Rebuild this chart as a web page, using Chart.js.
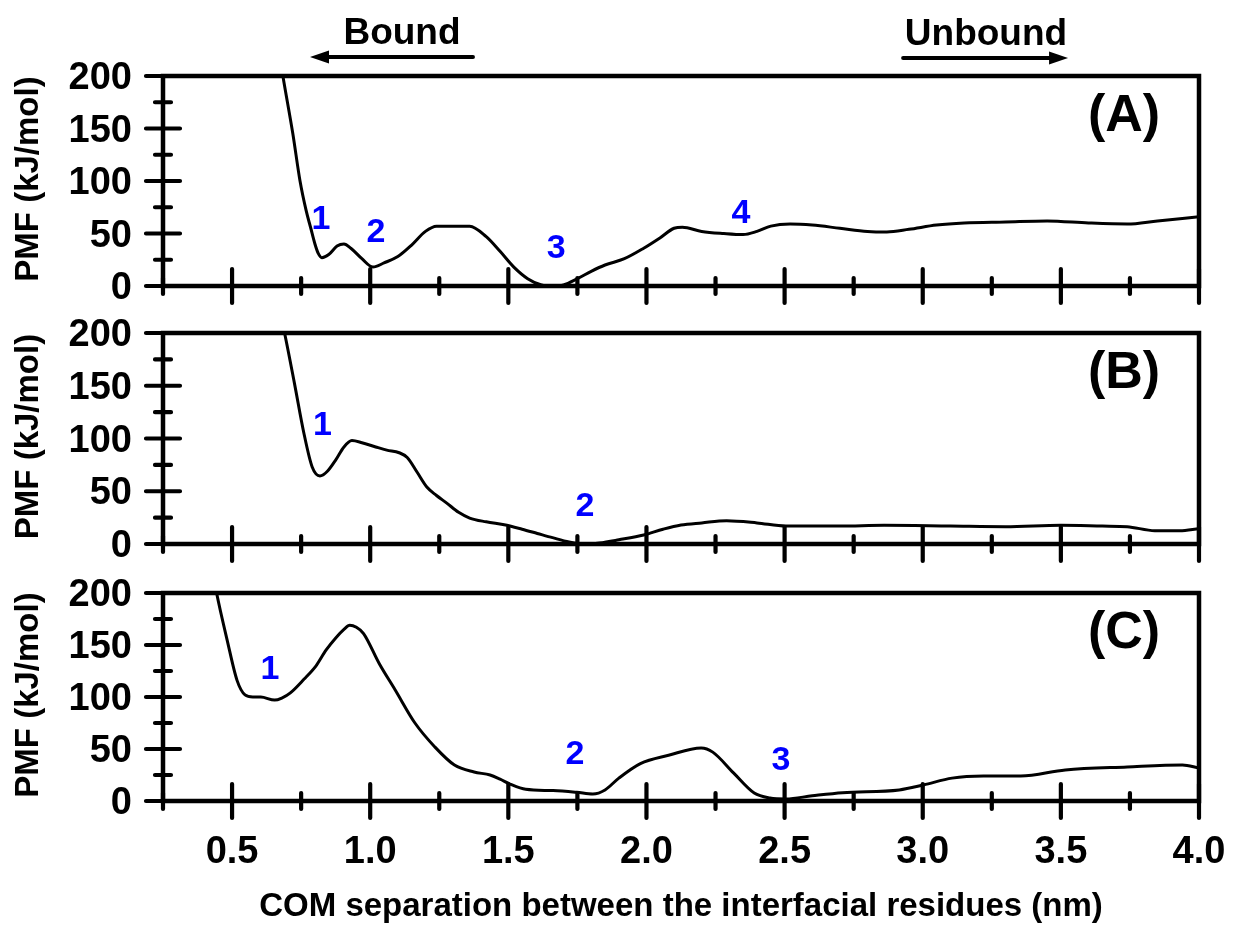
<!DOCTYPE html>
<html>
<head>
<meta charset="utf-8">
<script src="https://cdn.jsdelivr.net/npm/chart.js@4.4.1/dist/chart.umd.min.js"></script>
<style>
  html,body{margin:0;padding:0;background:#fff;}
  #wrap{position:relative;width:1234px;height:926px;}
  #wrap canvas{position:absolute;left:0;top:0;}
</style>
</head>
<body>
<div id="wrap">
  <canvas id="pA" width="1234" height="926"></canvas>
  <canvas id="pB" width="1234" height="926"></canvas>
  <canvas id="pC" width="1234" height="926"></canvas>
</div>
<script>
// --- PMF curves (x: nm, y: kJ/mol) ---
const xA = [0.66,0.684,0.72,0.746,0.768,0.785,0.8,0.812,0.825,0.85,0.88,0.905,0.93,0.97,1.01,1.05,1.1,1.15,1.2,1.24,1.3,1.36,1.42,1.47,1.52,1.57,1.62,1.66,1.7,1.75,1.8,1.85,1.92,1.99,2.05,2.1,2.13,2.2,2.28,2.35,2.4,2.45,2.52,2.6,2.7,2.8,2.87,2.95,3.05,3.15,3.3,3.45,3.6,3.74,3.85,4.0];
const pmfA = [240,200,145,100,72,55,40,31,27,30,38,40,36,26,18,22,28,39,52,57,57,57,47,33,18,7,1,0,1,7,14,20,26,36,46,55,56,52,50,49,52,57,59,58,55,52,51.5,54,58,60,61,62,60,59,62,66];

const xB = [0.66,0.69,0.726,0.76,0.79,0.818,0.845,0.876,0.905,0.934,0.97,1.02,1.06,1.105,1.134,1.17,1.205,1.24,1.276,1.32,1.36,1.42,1.49,1.55,1.605,1.66,1.72,1.78,1.83,1.9,1.99,2.06,2.125,2.2,2.29,2.4,2.505,2.7,2.86,3.1,3.3,3.5,3.65,3.74,3.84,3.93,4.0];
const pmfB = [235,200,152,105,73,64.5,69,80,92,98,96,92,89,86.5,82,68,54,46,39,30,24.6,21,18,14,10,6,2,0,1,4,8.5,14,18,20,22,20,17,17,17.7,17,16.4,17.7,17,16.4,12.6,12.5,14.5];

const xC = [0.42,0.444,0.482,0.518,0.547,0.575,0.604,0.654,0.68,0.711,0.76,0.804,0.84,0.876,0.905,0.926,0.95,0.976,1.033,1.09,1.162,1.234,1.305,1.376,1.434,1.47,1.506,1.563,1.662,1.748,1.806,1.85,1.9,1.978,2.08,2.198,2.24,2.315,2.39,2.447,2.505,2.6,2.71,2.915,3.003,3.106,3.22,3.355,3.516,3.74,3.94,4.0];
const pmfC = [235,200,155,116,102,100,100,97,99,104,117,130,145,157,165,169,167,161,132,107,75,52,34.6,27.9,25,21,16.3,11.2,10,8.3,6.7,10.6,22,36,44,51,47,27,7.6,2.9,2,5,8,10.6,15.4,22,24,24,29.8,32.7,34.6,31.7];

// axis ticks
const xMajor = [0.5,1.0,1.5,2.0,2.5,3.0,3.5,4.0];
const xMajorLabels = ['0.5','1.0','1.5','2.0','2.5','3.0','3.5','4.0'];
const xMinor = [0.25,0.75,1.25,1.75,2.25,2.75,3.25,3.75];
const yMajor = [0,50,100,150,200];
const yMinor = [25,75,125,175];

// blue state labels (placed in data units)
const marksA = [['1',0.822,63],['2',1.021,50.5],['3',1.673,36],['4',2.342,69]];
const marksB = [['1',0.827,112],['2',1.777,35]];
const marksC = [['1',0.637,126],['2',1.741,45],['3',2.487,39]];

const panelNames = ['(A)','(B)','(C)'];
const FONT = '"Liberation Sans", Arial, Helvetica, sans-serif';

function arrow(ctx, x0, x1, y){
  const dir = Math.sign(x1 - x0);
  ctx.beginPath();
  ctx.lineWidth = 4;
  ctx.lineCap = 'round';
  ctx.moveTo(x0, y); ctx.lineTo(x1 - dir*14, y);
  ctx.stroke();
  ctx.beginPath();
  ctx.moveTo(x1, y);
  ctx.lineTo(x1 - dir*19, y - 6.5);
  ctx.lineTo(x1 - dir*19, y + 6.5);
  ctx.closePath();
  ctx.fill();
}

const axesPlugin = {
  id: 'panelAxes',
  afterDraw(chart, args, o){
    const {ctx, chartArea: a, scales: {x, y}} = chart;
    ctx.save();
    ctx.strokeStyle = '#000';
    ctx.fillStyle = '#000';
    // frame
    ctx.lineWidth = 4.5;
    ctx.lineCap = 'butt';
    ctx.strokeRect(a.left, a.top, a.right - a.left, a.bottom - a.top);
    // ticks, crossing the axis
    ctx.lineWidth = 4.2;
    ctx.lineCap = 'round';
    ctx.beginPath();
    xMajor.forEach(v => { const p = x.getPixelForValue(v); ctx.moveTo(p, a.bottom - 17); ctx.lineTo(p, a.bottom + 17); });
    xMinor.forEach(v => { const p = x.getPixelForValue(v); ctx.moveTo(p, a.bottom - 8); ctx.lineTo(p, a.bottom + 8); });
    yMajor.forEach(v => { const p = y.getPixelForValue(v); ctx.moveTo(a.left - 17, p); ctx.lineTo(a.left + 17, p); });
    yMinor.forEach(v => { const p = y.getPixelForValue(v); ctx.moveTo(a.left - 8, p); ctx.lineTo(a.left + 8, p); });
    ctx.stroke();

    // y tick labels
    ctx.font = 'bold 38px ' + FONT;
    ctx.textAlign = 'right';
    ctx.textBaseline = 'alphabetic';
    yMajor.forEach(v => ctx.fillText(String(v), a.left - 31, y.getPixelForValue(v) + 13));

    // y title
    ctx.save();
    ctx.translate(29, (a.top + a.bottom)/2 - 2);
    ctx.rotate(-Math.PI/2);
    ctx.font = 'bold 33px ' + FONT;
    ctx.textAlign = 'center';
    ctx.textBaseline = 'middle';
    ctx.fillText('PMF (kJ/mol)', 0, 0);
    ctx.restore();

    // panel letter
    ctx.font = 'bold 52px ' + FONT;
    ctx.textAlign = 'center';
    ctx.fillText(o.name, a.right - 75, a.top + 55);

    // blue state numbers
    ctx.fillStyle = '#0000ff';
    ctx.font = 'bold 34px ' + FONT;
    ctx.textAlign = 'center';
    ctx.textBaseline = 'middle';
    o.marks.forEach(m => ctx.fillText(m[0], x.getPixelForValue(m[1]), y.getPixelForValue(m[2])));
    ctx.fillStyle = '#000';

    if (o.bottom) {
      ctx.font = 'bold 38px ' + FONT;
      ctx.textAlign = 'center';
      ctx.textBaseline = 'alphabetic';
      xMajor.forEach((v, i) => ctx.fillText(xMajorLabels[i], x.getPixelForValue(v), a.bottom + 62));
      ctx.font = 'bold 33px ' + FONT;
      ctx.fillText('COM separation between the interfacial residues (nm)', (a.left + a.right)/2, a.bottom + 115);
    }
    if (o.top) {
      ctx.font = 'bold 37px ' + FONT;
      ctx.textAlign = 'center';
      ctx.textBaseline = 'alphabetic';
      ctx.fillText('Bound', x.getPixelForValue(1.115), 44);
      arrow(ctx, x.getPixelForValue(1.372), x.getPixelForValue(0.782), 57);
      ctx.fillText('Unbound', x.getPixelForValue(3.229), 45);
      arrow(ctx, x.getPixelForValue(2.929), x.getPixelForValue(3.526), 58);
    }
    ctx.restore();
  }
};

function makePanel(id, xs, ys, top, bottom, opts){
  return new Chart(document.getElementById(id), {
    type: 'line',
    data: {
      datasets: [{
        data: xs.map((v, i) => ({x: v, y: ys[i]})),
        borderColor: '#000',
        borderWidth: 3,
        pointRadius: 0,
        cubicInterpolationMode: 'monotone',
        fill: false
      }]
    },
    options: {
      responsive: false,
      animation: false,
      layout: {padding: {left: 163, right: 35, top: top, bottom: 926 - bottom}},
      scales: {
        x: {type: 'linear', min: 0.25, max: 4.0, display: false},
        y: {min: 0, max: 200, display: false}
      },
      plugins: {legend: {display: false}, tooltip: {enabled: false}, panelAxes: opts}
    },
    plugins: [axesPlugin]
  });
}

makePanel('pA', xA, pmfA, 76, 286, {name: panelNames[0], marks: marksA, top: true});
makePanel('pB', xB, pmfB, 333, 544, {name: panelNames[1], marks: marksB});
makePanel('pC', xC, pmfC, 593, 801, {name: panelNames[2], marks: marksC, bottom: true});
</script>
</body>
</html>
